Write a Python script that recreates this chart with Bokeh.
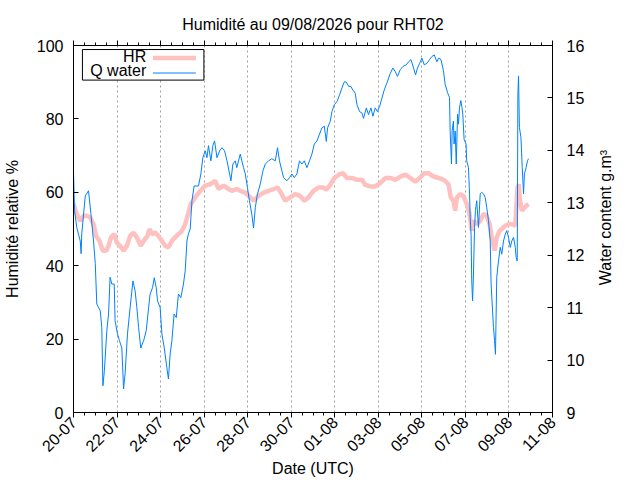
import math
from bokeh.plotting import figure
from bokeh.layouts import row
from bokeh.models import (Range1d, LinearAxis, FixedTicker, CustomJSTickFormatter,
                          Grid, Label)
from bokeh.embed import file_html
from bokeh.resources import INLINE

FONT = "Liberation Sans"

# ---- data -------------------------------------------------------------
title_text = "Humidité au 09/08/2026 pour RHT02"
x_title = "Date (UTC)"
y_title = "Humidité relative %"
y2_title = "Water content g.m³"
x_tick_labels = ["20-07", "22-07", "24-07", "26-07", "28-07", "30-07",
                 "01-08", "03-08", "05-08", "07-08", "09-08", "11-08"]
x_tick_days = [0, 2, 4, 6, 8, 10, 12, 14, 16, 18, 20, 22]
x_minor_days = [0, 0.5, 1, 1.5, 2, 2.5, 3, 3.5, 4, 4.5, 5, 5.5, 6, 6.5, 7, 7.5,
                8, 8.5, 9, 9.5, 10, 10.5, 11, 11.5, 12, 12.5, 13, 13.5, 14, 14.5,
                15, 15.5, 16, 16.5, 17, 17.5, 18, 18.5, 19, 19.5, 20, 20.5, 21,
                21.5, 22]
hr_ticks = [0, 20, 40, 60, 80, 100]
q_ticks = [9, 10, 11, 12, 13, 14, 15, 16]

# HR (%), days since 20-07 00:00
hr_days = [0.00, 0.15, 0.31, 0.46, 0.61, 0.77, 0.92, 1.04, 1.19, 1.35, 1.50, 1.61,
           1.72, 1.87, 1.99, 2.14, 2.30, 2.45, 2.60, 2.76, 2.91, 3.09, 3.25, 3.40,
           3.49, 3.60, 3.75, 3.90, 4.06, 4.21, 4.36, 4.52, 4.67, 4.82, 4.98, 5.13,
           5.28, 5.39, 5.59, 5.82, 6.05, 6.28, 6.51, 6.66, 6.89, 7.12, 7.27, 7.50,
           7.66, 7.89, 8.12, 8.27, 8.50, 8.73, 8.96, 9.19, 9.37, 9.53, 9.72, 9.95,
           10.18, 10.41, 10.60, 10.79, 11.02, 11.25, 11.48, 11.61, 11.79, 11.98,
           12.18, 12.38, 12.56, 12.79, 13.02, 13.25, 13.40, 13.63, 13.86, 14.09,
           14.32, 14.55, 14.78, 15.01, 15.24, 15.47, 15.70, 15.90, 16.11, 16.31,
           16.54, 16.77, 17.00, 17.07, 17.22, 17.33, 17.45, 17.53, 17.61, 17.76,
           17.91, 18.06, 18.19, 18.29, 18.37, 18.52, 18.68, 18.83, 18.98, 19.11,
           19.21, 19.34, 19.44, 19.57, 19.67, 19.83, 19.98, 20.13, 20.29, 20.39,
           20.45, 20.51, 20.59, 20.67, 20.79, 20.90]
hr_vals = [56.8, 54.1, 52.2, 53.6, 53.6, 53.1, 51.3, 48.1, 46.8, 44.1, 44.1, 45.4,
           47.7, 48.6, 46.3, 45.4, 44.1, 45.4, 48.1, 49.0, 47.7, 45.4, 47.0, 48.1,
           50.0, 48.6, 49.0, 48.1, 46.8, 45.4, 45.0, 46.8, 47.7, 48.6, 49.5, 51.3,
           54.5, 56.8, 58.6, 60.4, 61.8, 62.2, 63.1, 60.9, 61.8, 60.9, 60.4, 60.9,
           60.4, 59.9, 58.6, 57.7, 59.0, 59.9, 60.4, 60.9, 61.3, 59.9, 57.7, 58.6,
           59.5, 59.0, 57.7, 58.6, 60.4, 61.3, 61.3, 60.7, 62.0, 63.9,
           64.8, 65.2, 63.9, 63.9, 63.4, 63.4, 62.0, 61.6, 61.6, 62.5,
           63.9, 63.9, 63.4, 64.3, 64.8, 63.9, 62.9, 63.9, 65.2, 65.2,
           64.3, 63.9, 63.4, 63.1, 62.2, 58.6, 57.7, 55.0, 58.6, 59.5,
           59.0, 56.8, 54.1, 49.5, 52.2, 51.3, 52.2, 54.1, 53.6, 51.3,
           47.7, 44.1, 47.7, 49.5, 50.0, 50.9, 51.3, 51.3, 50.9, 61.3,
           62.2, 57.7, 55.0, 55.5, 56.3, 56.8]

# Q water (g.m-3), days since 20-07 00:00
q_days = [0.00, 0.05, 0.15, 0.31, 0.35, 0.38, 0.54, 0.69, 0.80, 0.92, 1.00, 1.07,
          1.23, 1.30, 1.35, 1.42, 1.53, 1.61, 1.68, 1.76, 1.87, 1.91, 2.02, 2.11,
          2.22, 2.30, 2.37, 2.48, 2.60, 2.73, 2.83, 2.91, 2.99, 3.09, 3.22, 3.34,
          3.45, 3.52, 3.63, 3.71, 3.80, 3.86, 3.98, 4.06, 4.17, 4.29, 4.36, 4.44,
          4.52, 4.62, 4.72, 4.82, 4.93, 5.05, 5.13, 5.21, 5.28, 5.36, 5.44, 5.54,
          5.74, 5.85, 5.94, 6.05, 6.13, 6.20, 6.31, 6.40, 6.48, 6.59, 6.71, 6.82,
          6.94, 7.05, 7.17, 7.23, 7.32, 7.43, 7.50, 7.66, 7.73, 7.81, 7.89, 7.99,
          8.08, 8.19, 8.27, 8.35, 8.45, 8.58, 8.70, 8.81, 8.96, 9.11, 9.27, 9.37,
          9.46, 9.57, 9.65, 9.80, 9.92, 10.03, 10.14, 10.26, 10.38, 10.49, 10.60,
          10.72, 10.84, 10.95, 11.06, 11.18, 11.30, 11.41, 11.52, 11.61, 11.67,
          11.79, 11.87, 11.98, 12.10, 12.22, 12.33, 12.44, 12.53, 12.64, 12.74,
          12.83, 12.94, 13.02, 13.14, 13.25, 13.32, 13.45, 13.55, 13.66, 13.75,
          13.86, 13.96, 14.06, 14.17, 14.27, 14.39, 14.55, 14.67, 14.78, 14.88,
          15.01, 15.13, 15.28, 15.39, 15.50, 15.62, 15.71, 15.80, 15.90, 16.00,
          16.11, 16.23, 16.35, 16.46, 16.57, 16.69, 16.77, 16.88, 16.99, 17.07,
          17.18, 17.27, 17.30, 17.36, 17.39, 17.45, 17.48, 17.53, 17.58, 17.64,
          17.68, 17.73, 17.79, 17.84, 17.88, 17.94, 18.03, 18.06, 18.14, 18.19,
          18.22, 18.26, 18.29, 18.33, 18.37, 18.42, 18.46, 18.52, 18.60, 18.68,
          18.75, 18.83, 18.91, 18.98, 19.06, 19.14, 19.18, 19.23, 19.29, 19.34,
          19.38, 19.44, 19.52, 19.60, 19.67, 19.75, 19.83, 19.90, 19.98, 20.06,
          20.13, 20.21, 20.29, 20.33, 20.38, 20.41, 20.44, 20.48, 20.55, 20.61,
          20.67, 20.71, 20.79, 20.85, 20.90]
q_vals = [13.58, 12.85, 12.53, 12.27, 12.03, 12.41, 13.13, 13.23, 12.79, 12.27, 11.84, 11.07,
          10.94, 10.62, 9.51, 9.80, 10.56, 10.88, 11.58, 11.45, 11.45, 10.75, 10.50, 10.37,
          10.23, 9.45, 9.74, 10.50, 11.00, 11.51, 11.32, 11.00, 10.62, 10.23, 10.37, 10.56,
          11.00, 11.26, 11.38, 11.57, 11.38, 11.13, 11.00, 10.50, 10.23, 9.85, 9.64, 10.12,
          10.37, 10.88, 10.81, 11.26, 11.19, 11.45, 11.70, 12.27, 12.41, 12.50, 13.04, 13.32,
          13.32, 13.55, 13.86, 13.99, 13.86, 14.09, 13.80, 14.09, 14.18, 13.86, 13.99, 14.05,
          13.99, 13.80, 13.55, 13.42, 13.74, 13.80, 13.67, 13.93, 13.80, 13.67, 13.55, 13.29,
          13.04, 12.78, 12.52, 12.91, 13.17, 13.36, 13.61, 13.74, 13.80, 13.84, 13.80, 14.05,
          13.80, 13.61, 13.48, 13.42, 13.48, 13.55, 13.48, 13.55, 13.80, 13.74, 13.80,
          13.67, 13.80, 13.93, 14.12, 14.18, 14.31, 14.43, 14.46, 14.17, 14.43,
          14.55, 14.74, 14.87, 14.93, 15.06, 15.19, 15.31, 15.30, 15.22, 15.22,
          15.15, 15.09, 14.87, 14.74, 14.71, 14.61, 14.81, 14.68, 14.81, 14.65,
          14.81, 14.74, 14.84, 15.00, 15.15, 15.28, 15.47, 15.57, 15.50, 15.41,
          15.54, 15.60, 15.63, 15.69, 15.73, 15.57, 15.44, 15.57, 15.66, 15.76,
          15.63, 15.66, 15.73, 15.79, 15.82, 15.69, 15.76, 15.73, 15.52, 15.26,
          15.10, 15.01, 14.37, 13.74, 14.37, 14.56, 14.12, 14.37, 13.74, 14.69,
          14.50, 14.82, 14.95, 14.82, 14.69, 14.21, 14.12, 13.80, 13.67, 13.17,
          12.72, 12.40, 11.51, 11.13, 11.64, 12.53, 12.85, 13.04, 12.53, 13.17,
          13.20, 13.17, 13.10, 12.91, 12.66, 12.27, 11.45, 11.07, 10.62, 10.37,
          10.11, 11.58, 11.89, 12.15, 12.02, 12.27, 12.40, 12.47, 12.34, 12.15,
          12.27, 12.34, 12.15, 11.96, 11.89, 15.07, 15.42, 14.44, 14.25, 13.67,
          13.17, 13.55, 13.67, 13.80, 13.84]

legend_labels = ["HR", "Q water"]
hr_color = "#ffc0c0"
q_color = "#0080ff"

# ---- main figure ----------------------------------------------------------
p = figure(width=590, height=480, x_range=Range1d(0, 22), y_range=Range1d(0, 100),
           x_axis_type=None, y_axis_type=None, output_backend="svg",
           toolbar_location=None, min_border_left=73, min_border_right=38,
           min_border_top=45, min_border_bottom=68, title=title_text)
p.extra_y_ranges = {"q": Range1d(9, 16)}
p.outline_line_color = "black"
p.outline_line_width = 1
p.background_fill_color = "white"
p.border_fill_color = "white"
p.title.align = "center"
p.title.text_font = FONT
p.title.text_font_size = "16px"
p.title.text_font_style = "normal"
p.title.text_color = "black"
p.title.standoff = 15


def style(ax):
    ax.axis_line_color = "black"
    ax.major_tick_line_color = "black"
    ax.minor_tick_line_color = "black"
    ax.major_label_text_font = FONT
    ax.major_label_text_font_size = "16px"
    ax.major_label_text_color = "black"
    ax.axis_label_text_font = FONT
    ax.axis_label_text_font_size = "16px"
    ax.axis_label_text_font_style = "normal"
    ax.axis_label_text_color = "black"


xticker = FixedTicker(ticks=x_tick_days, minor_ticks=x_minor_days)
xfmt = CustomJSTickFormatter(args=dict(pos=x_tick_days, labels=x_tick_labels),
                             code="const i = pos.indexOf(tick); return i >= 0 ? labels[i] : '';")

xb = LinearAxis(ticker=xticker, formatter=xfmt, axis_label=x_title)
style(xb)
xb.major_label_orientation = math.pi / 4
xb.major_tick_in = 0
xb.major_tick_out = 5
xb.minor_tick_in = 0
xb.minor_tick_out = 3
xb.major_label_standoff = 2
xb.axis_label_standoff = 0
p.add_layout(xb, "below")

# mirrored ticks on the top border (no labels)
xt = LinearAxis(ticker=xticker, formatter=xfmt)
style(xt)
xt.major_label_text_color = None
xt.major_label_standoff = 0
xt.major_tick_in = 0
xt.major_tick_out = 5
xt.minor_tick_in = 0
xt.minor_tick_out = 3
p.add_layout(xt, "above")

yl = LinearAxis(ticker=FixedTicker(ticks=hr_ticks), axis_label=y_title)
style(yl)
yl.major_tick_in = 5
yl.major_tick_out = 0
yl.minor_tick_line_color = None
yl.major_label_standoff = 10
yl.axis_label_standoff = 13
p.add_layout(yl, "left")

yr = LinearAxis(y_range_name="q", ticker=FixedTicker(ticks=q_ticks))
style(yr)
yr.major_tick_in = 5
yr.major_tick_out = 0
yr.minor_tick_line_color = None
yr.major_label_standoff = 14
p.add_layout(yr, "right")

grid = Grid(dimension=0, ticker=xticker, grid_line_color="#a0a0a0",
            grid_line_dash="2 3", grid_line_width=1)
p.add_layout(grid)

# ---- data lines ----------------------------------------------------------
p.line(hr_days, hr_vals, line_color=hr_color, line_width=4.5)
p.line(q_days, q_vals, line_color=q_color, line_width=1, y_range_name="q")

# ---- legend (gnuplot style: text right-aligned, sample on the right) ----
p.quad(left=[0.41], right=[5.99], bottom=[90.57], top=[98.9],
       fill_color="white", line_color="black", line_width=1)
p.line([3.65, 5.62], [96.6, 96.6], line_color=hr_color, line_width=4.5)
p.line([3.65, 5.62], [92.5, 92.5], line_color=q_color, line_width=1)
for lab, yy in zip(legend_labels, [96.9, 93.3]):
    p.add_layout(Label(x=3.34, y=yy, text=lab, text_align="right",
                       text_baseline="middle", text_font=FONT,
                       text_font_size="16px", text_color="black"))

# ---- strip on the right holding the y2 title, reading bottom to top ------
p2 = figure(width=50, height=480, x_range=Range1d(0, 50), y_range=Range1d(0, 480),
            x_axis_type=None, y_axis_type=None, output_backend="svg",
            toolbar_location=None, min_border=0)
p2.outline_line_color = None
p2.background_fill_color = "white"
p2.border_fill_color = "white"
p2.add_layout(Label(x=15, y=255, text=y2_title, angle=math.pi / 2,
                    text_align="center", text_baseline="middle", text_font=FONT,
                    text_font_size="16px", text_color="black"))

layout = row(p, p2, spacing=0)
open("out.html", "w").write(file_html(layout, INLINE))
